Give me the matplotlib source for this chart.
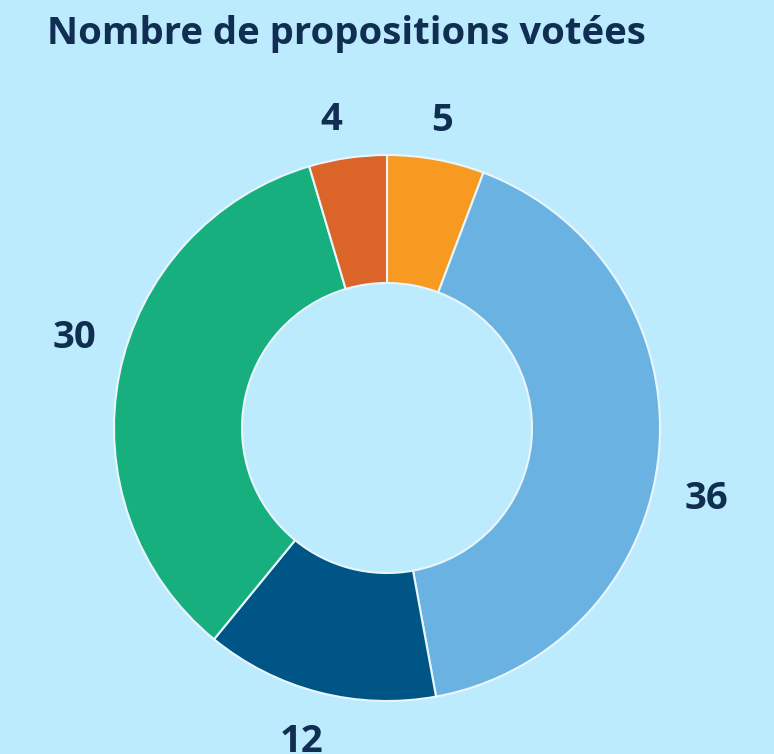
import matplotlib.pyplot as plt

# valeurs du graphique (sens horaire depuis le haut)
valeurs = [5, 36, 12, 30, 4]
etiquettes = ['5', '36', '12', '30', '4']
couleurs = ['#F89A21', '#6AB2E2', '#005587', '#18AF7E', '#DB6529']

fond = '#BDEBFE'
texte = '#102D52'

plt.rcParams['font.family'] = ['Open Sans', 'DejaVu Sans']

fig = plt.figure(figsize=(7.74, 7.54), dpi=100, facecolor=fond)
ax = fig.add_axes([0, 0, 1, 1])
ax.set_facecolor(fond)

wedges, textes = ax.pie(
    valeurs, labels=etiquettes, colors=couleurs,
    startangle=90, counterclock=False,
    center=(387, 326), radius=273, labeldistance=1.16,
    wedgeprops=dict(width=128, edgecolor='#E8F6FC', linewidth=1.5),
    textprops=dict(fontsize=27.5, fontweight='bold', color=texte),
    frame=True,
)
ax.set_xlim(0, 774)
ax.set_ylim(0, 754)
ax.set_aspect('equal')
ax.axis('off')
# décalages des libellés comme dans l'original
decalages = [(-2, -5), (4, -42), (-6, -7), (-2, 28), (-10, -5)]
for t, (dx, dy) in zip(textes, decalages):
    t.set_horizontalalignment('center')
    t.set_verticalalignment('center')
    x, y = t.get_position()
    t.set_position((x + dx, y + dy))

fig.text(47 / 774, 1 - 34 / 754, 'Nombre de propositions votées',
         fontsize=27.5, fontweight='bold', color=texte, va='center', ha='left')

fig.savefig('out.png', dpi=100, facecolor=fond)
